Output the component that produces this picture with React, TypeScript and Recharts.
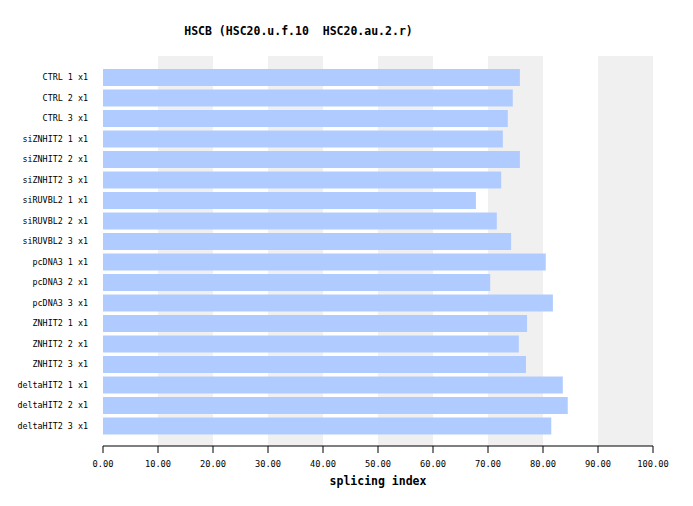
import { BarChart, Bar, XAxis, YAxis, CartesianGrid } from "recharts";

const samples = [
  "CTRL 1 x1",
  "CTRL 2 x1",
  "CTRL 3 x1",
  "siZNHIT2 1 x1",
  "siZNHIT2 2 x1",
  "siZNHIT2 3 x1",
  "siRUVBL2 1 x1",
  "siRUVBL2 2 x1",
  "siRUVBL2 3 x1",
  "pcDNA3 1 x1",
  "pcDNA3 2 x1",
  "pcDNA3 3 x1",
  "ZNHIT2 1 x1",
  "ZNHIT2 2 x1",
  "ZNHIT2 3 x1",
  "deltaHIT2 1 x1",
  "deltaHIT2 2 x1",
  "deltaHIT2 3 x1",
];

const splicingIndex = [
  75.8, 74.5, 73.6, 72.7, 75.8, 72.4, 67.8, 71.6, 74.2, 80.5, 70.4, 81.8, 77.1,
  75.6, 76.9, 83.6, 84.5, 81.5,
];

const xTicks = [0, 10, 20, 30, 40, 50, 60, 70, 80, 90, 100];

const title = "HSCB (HSC20.u.f.10  HSC20.au.2.r)";

const font = "'DejaVu Sans Mono', monospace";

const rows = samples.map((s, i) => ({ sample: s, value: splicingIndex[i] }));

function XTick({ x, y, payload }: any) {
  return (
    <text x={x} y={y} dy={12} textAnchor="middle" fontFamily={font} fontSize={8.7} fill="#000">
      {Number(payload.value).toFixed(2)}
    </text>
  );
}

function YTick({ x, y, payload }: any) {
  return (
    <text x={x} y={y} dy={3} textAnchor="end" fontFamily={font} fontSize={8.4} fill="#000">
      {payload.value}
    </text>
  );
}

export default function App() {
  return (
    <div style={{ position: "absolute", left: 0, top: 0, width: 693, height: 506, background: "#fff" }}>
      <div
        style={{
          position: "absolute",
          left: 0,
          top: 24,
          width: 597,
          textAlign: "center",
          fontFamily: font,
          fontWeight: "bold",
          fontSize: 11.5,
          lineHeight: "14px",
          whiteSpace: "pre",
        }}
      >
        {title}
      </div>
      <BarChart
        width={693}
        height={506}
        data={rows}
        layout="vertical"
        margin={{ top: 56, right: 40, bottom: 0, left: 0 }}
      >
        <CartesianGrid
          horizontal={false}
          vertical={true}
          stroke="transparent"
          verticalFill={["#ffffff", "#f0f0f0"]}
        />
        <XAxis
          type="number"
          domain={[0, 100]}
          ticks={xTicks}
          height={60}
          stroke="#000"
          tickSize={7}
          tickMargin={2}
          tick={<XTick />}
          label={{
            value: "splicing index",
            position: "insideBottom",
            offset: 21,
            style: { fontFamily: font, fontWeight: "bold", fontSize: 11.5, fill: "#000" },
          }}
        />
        <YAxis
          type="category"
          dataKey="sample"
          width={103}
          axisLine={false}
          tickLine={false}
          tickSize={0}
          tickMargin={15}
          padding={{ top: 11, bottom: 10 }}
          interval={0}
          tick={<YTick />}
        />
        <Bar dataKey="value" fill="#b0cbff" barSize={17} isAnimationActive={false} />
      </BarChart>
    </div>
  );
}
